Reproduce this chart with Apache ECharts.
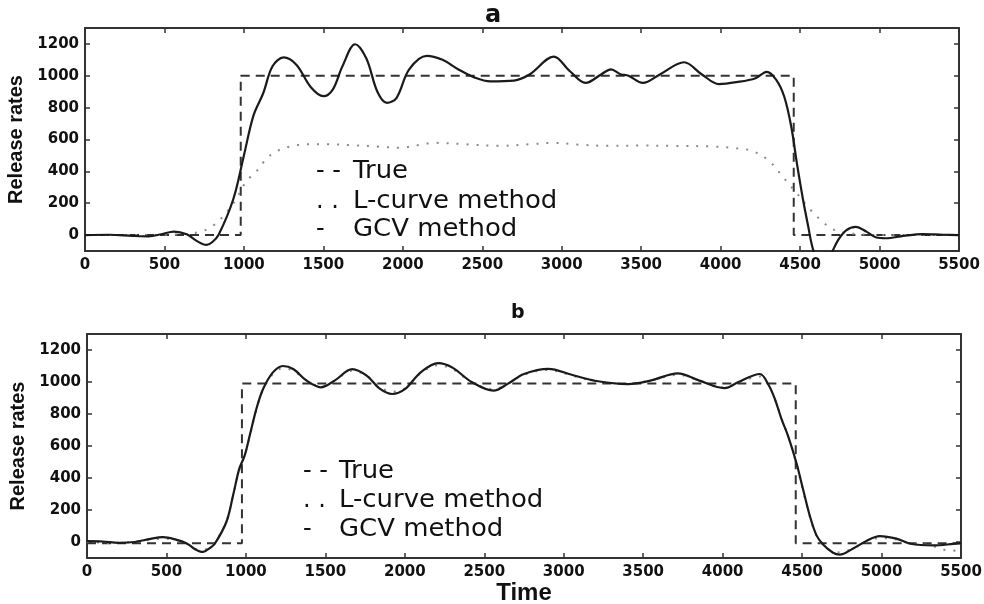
<!DOCTYPE html>
<html>
<head>
<meta charset="utf-8">
<title>Release rates</title>
<script src="https://cdn.jsdelivr.net/npm/echarts@6/dist/echarts.min.js"></script>
<style>
  html, body { margin: 0; padding: 0; background: #fff; }
  #chart { width: 984px; height: 604px; }
</style>
</head>
<body>
<div id="chart"></div>
<script type="text/javascript">
// tick labels
var xTicks = [0, 500, 1000, 1500, 2000, 2500, 3000, 3500, 4000, 4500, 5000, 5500];
var yTicks = [0, 200, 400, 600, 800, 1000, 1200];

// panel a  [time, rate]
var aTrue = [[0, 0], [980, 0], [980, 1000], [4460, 1000], [4460, 0], [5500, 0]];
var aLcurve = [[0, 0], [300, 0], [600, 5], [723, 20], [805, 58], [891, 142], [950, 225], [1017, 340],
  [1079, 400], [1143, 480], [1205, 526], [1289, 556], [1400, 570], [1520, 570], [1673, 565], [1850, 555],
  [1980, 548], [2100, 565], [2200, 579], [2400, 570], [2600, 560], [2800, 570], [2950, 579], [3100, 568],
  [3300, 560], [3500, 562], [3700, 560], [3950, 556], [4100, 545], [4203, 527], [4300, 470], [4371, 392],
  [4430, 320], [4476, 267], [4530, 200], [4581, 142], [4640, 85], [4706, 37], [4780, 15], [4853, 7],
  [5000, 0], [5500, 0]];
var aGcv = [[0, 0], [150, 2], [300, -5], [400, -8], [480, 5], [560, 22], [640, 5], [700, -35], [765, -62],
  [800, -45], [840, 0], [933, 225], [1000, 500], [1060, 750], [1122, 892], [1180, 1060], [1250, 1115],
  [1330, 1070], [1420, 930], [1500, 872], [1560, 915], [1620, 1060], [1700, 1198], [1770, 1110],
  [1840, 900], [1900, 830], [1960, 860], [2040, 1040], [2150, 1125], [2250, 1100], [2350, 1040],
  [2450, 990], [2550, 965], [2700, 970], [2800, 1010], [2950, 1120], [3050, 1030], [3150, 955],
  [3250, 1010], [3310, 1040], [3370, 1010], [3420, 1000], [3510, 955], [3620, 1010], [3770, 1085],
  [3880, 1010], [3990, 948], [4100, 960], [4220, 985], [4290, 1025], [4350, 975], [4400, 870],
  [4444, 683], [4480, 450], [4518, 225], [4550, 60], [4581, -88], [4620, -170], [4660, -190],
  [4700, -110], [4740, -30], [4790, 30], [4850, 52], [4920, 20], [4980, -15], [5040, -20],
  [5150, -5], [5270, 6], [5400, 2], [5500, 0]];

// panel b  [time, rate]
var bTrue = [[0, -8], [975, -8], [975, 990], [4460, 990], [4460, -8], [5500, -8]];
var bLcurve = [[0, 0], [200, -5], [400, 15], [500, 20], [600, 0], [700, -45], [760, -45], [804, -5],
  [877, 130], [919, 290], [958, 450], [992, 540], [1024, 660], [1066, 830], [1108, 950], [1170, 1050],
  [1233, 1085], [1300, 1070], [1380, 1010], [1471, 975], [1560, 1010], [1669, 1070], [1760, 1040],
  [1840, 970], [1920, 940], [2000, 960], [2100, 1055], [2210, 1105], [2300, 1080], [2420, 1000],
  [2558, 955], [2650, 990], [2750, 1045], [2903, 1075], [3050, 1040], [3196, 1005], [3405, 990],
  [3550, 1010], [3718, 1045], [3850, 1010], [4012, 965], [4100, 995], [4234, 1035], [4290, 975],
  [4330, 890], [4370, 775], [4411, 665], [4464, 490], [4506, 320], [4548, 160], [4590, 40],
  [4632, -20], [4695, -60], [4737, -65], [4819, -40], [4905, 0], [4989, 25], [5094, 15],
  [5182, -10], [5300, -20], [5400, -50], [5450, -55], [5500, -30]];
var bGcv = [[0, 5], [100, 3], [200, -5], [300, 0], [400, 20], [478, 30], [560, 15], [625, -7],
  [680, -45], [730, -62], [770, -40], [804, -11], [877, 125], [919, 290], [958, 457], [992, 540],
  [1024, 665], [1066, 832], [1108, 956], [1170, 1060], [1233, 1100], [1300, 1080], [1380, 1010],
  [1471, 967], [1560, 1010], [1669, 1081], [1760, 1040], [1840, 960], [1920, 925], [2000, 955],
  [2100, 1060], [2210, 1118], [2300, 1090], [2420, 1000], [2558, 946], [2650, 990], [2750, 1050],
  [2903, 1082], [3050, 1045], [3196, 1008], [3405, 987], [3550, 1010], [3718, 1054], [3850, 1010],
  [4012, 962], [4100, 1000], [4234, 1050], [4290, 980], [4330, 890], [4370, 770], [4411, 665],
  [4464, 495], [4506, 330], [4548, 166], [4590, 43], [4632, -15], [4695, -67], [4737, -79],
  [4819, -42], [4905, 7], [4989, 37], [5094, 21], [5182, -11], [5329, -21], [5450, -12], [5500, -7]];

var legendNames = ['True', 'L-curve method', 'GCV method'];
var legendMarks = ['- -', '. .', '-'];

var ink = '#1a1a1a';
var tickFont = { color: '#111', fontFamily: 'DejaVu Sans', fontWeight: 'bold', fontSize: 15 };

function plain(v) { return String(v); }

function xAx(grid, pos, showLabel, name) {
  return {
    gridIndex: grid, type: 'value', position: pos, min: 0, max: 5500, interval: 500,
    name: name || '', nameLocation: 'middle', nameGap: 22,
    nameTextStyle: { color: '#111', fontFamily: 'Liberation Sans', fontWeight: 'bold', fontSize: 24 },
    axisLine: { show: true, onZero: false, lineStyle: { color: '#333', width: 2 } },
    axisTick: { show: true, inside: true, length: 5, lineStyle: { color: '#333', width: 1.5 } },
    axisLabel: Object.assign({ show: showLabel, margin: 7, formatter: plain }, tickFont),
    splitLine: { show: false }
  };
}
function yAx(grid, pos, showLabel, name) {
  return {
    gridIndex: grid, type: 'value', position: pos, min: -100, max: 1300,
    name: name || '', nameLocation: 'middle', nameGap: 57,
    nameTextStyle: { color: '#111', fontFamily: 'Liberation Sans', fontWeight: 'bold', fontSize: 20 },
    axisLine: { show: true, onZero: false, lineStyle: { color: '#333', width: 2 } },
    axisTick: { show: true, inside: true, length: 5, customValues: yTicks, lineStyle: { color: '#333', width: 1.5 } },
    axisLabel: Object.assign({ show: showLabel, margin: 6, customValues: yTicks, formatter: plain }, tickFont),
    splitLine: { show: false }
  };
}

function legendText(x0, x1, yList) {
  var out = [];
  for (var i = 0; i < legendNames.length; i++) {
    out.push({ type: 'text', x: x0, y: yList[i], style: { text: legendMarks[i], fill: '#111', font: '24px DejaVu Sans', verticalAlign: 'middle' } });
    out.push({ type: 'text', x: x1, y: yList[i], scaleX: 1.08, style: { text: legendNames[i], fill: '#111', font: '24px DejaVu Sans', verticalAlign: 'middle' } });
  }
  return out;
}

var chart = echarts.init(document.getElementById('chart'));

chart.setOption({
  backgroundColor: '#fff',
  animation: false,
  title: [
    { text: 'a', left: 485, top: 4, padding: 0, textStyle: { color: '#111', fontFamily: 'DejaVu Sans', fontWeight: 'bold', fontSize: 24 } },
    { text: 'b', left: 511, top: 304, padding: 0, textStyle: { color: '#111', fontFamily: 'DejaVu Sans', fontWeight: 'bold', fontSize: 19 } }
  ],
  grid: [
    { left: 85, top: 28, width: 874, height: 223, outerBoundsMode: 'none', containLabel: false },
    { left: 87, top: 334, width: 874, height: 224, outerBoundsMode: 'none', containLabel: false }
  ],
  xAxis: [
    xAx(0, 'bottom', true), xAx(0, 'top', false),
    xAx(1, 'bottom', true, 'Time'), xAx(1, 'top', false)
  ],
  yAxis: [
    yAx(0, 'left', true, 'Release rates'), yAx(0, 'right', false),
    yAx(1, 'left', true, 'Release rates'), yAx(1, 'right', false)
  ],
  graphic: legendText(316, 353, [172, 202, 230]).concat(legendText(303, 339, [472, 501, 530])),
  series: [
    { name: 'True', type: 'line', xAxisIndex: 0, yAxisIndex: 0, data: aTrue, symbol: 'none',
      lineStyle: { color: '#333', width: 2, type: [9, 6] } },
    { name: 'L-curve method', type: 'line', xAxisIndex: 0, yAxisIndex: 0, data: aLcurve, symbol: 'none', smooth: 0.35,
      lineStyle: { color: '#8a8a8a', width: 2, type: [2, 8] } },
    { name: 'GCV method', type: 'line', xAxisIndex: 0, yAxisIndex: 0, data: aGcv, symbol: 'none', smooth: 0.35,
      lineStyle: { color: ink, width: 2.2 } },
    { name: 'True', type: 'line', xAxisIndex: 2, yAxisIndex: 2, data: bTrue, symbol: 'none',
      lineStyle: { color: '#333', width: 2, type: [9, 6] } },
    { name: 'L-curve method', type: 'line', xAxisIndex: 2, yAxisIndex: 2, data: bLcurve, symbol: 'none', smooth: 0.35,
      lineStyle: { color: '#8a8a8a', width: 2, type: [2, 8] } },
    { name: 'GCV method', type: 'line', xAxisIndex: 2, yAxisIndex: 2, data: bGcv, symbol: 'none', smooth: 0.35,
      lineStyle: { color: ink, width: 2.2 } }
  ]
});
</script>
</body>
</html>
